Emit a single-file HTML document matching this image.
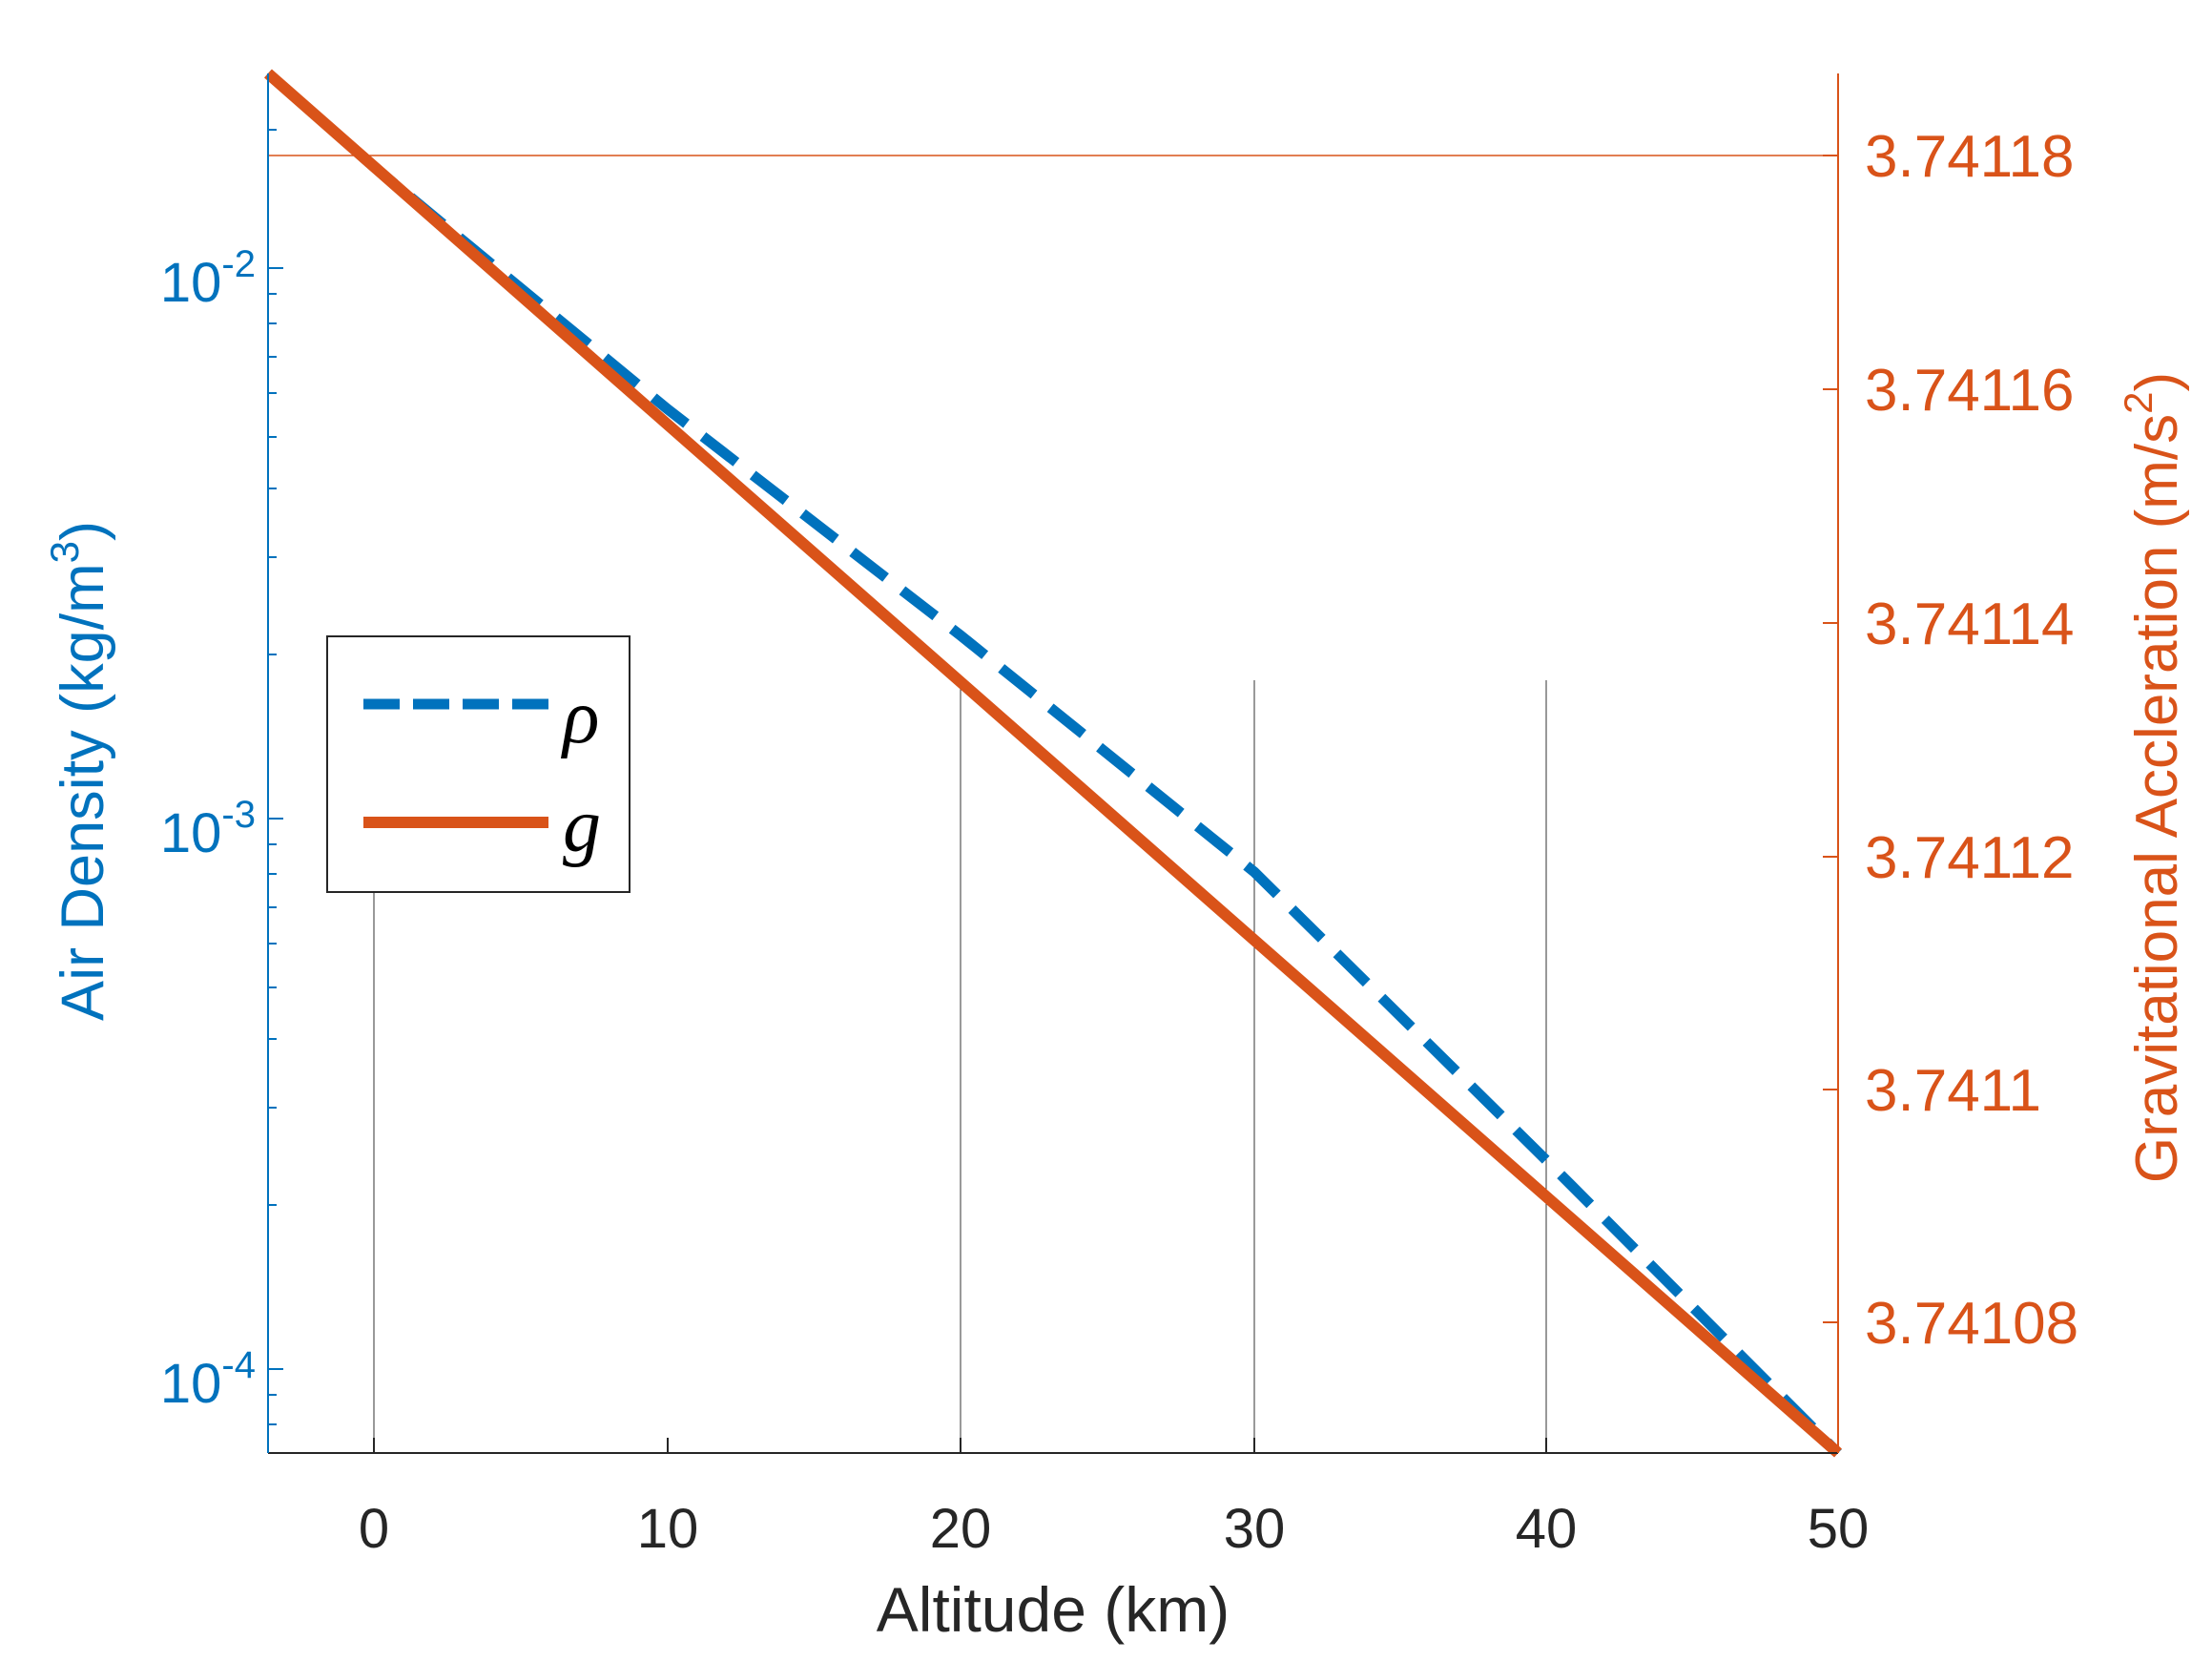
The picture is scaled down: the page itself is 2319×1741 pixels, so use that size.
<!DOCTYPE html>
<html><head><style>body{margin:0;background:#fff}svg{display:block}</style></head><body>
<svg width="2319" height="1741" xmlns="http://www.w3.org/2000/svg" font-family="Liberation Sans, sans-serif">
<rect width="2319" height="1741" fill="#fff"/>
<g stroke="#333" stroke-width="1">
<line x1="392" y1="713" x2="392" y2="1523"/>
<line x1="1007" y1="713" x2="1007" y2="1523"/>
<line x1="1315" y1="713" x2="1315" y2="1523"/>
<line x1="1621" y1="713" x2="1621" y2="1523"/>
</g>
<line x1="281" y1="163" x2="1927" y2="163" stroke="#D95319" stroke-width="1.5"/>
<polyline points="281,77 392,175 547,303 700,429 1007,666 1315,914 1621,1216 1927,1523" fill="none" stroke="#0072BD" stroke-width="11" stroke-dasharray="44,22"/>
<line x1="281" y1="77" x2="1927" y2="1523" stroke="#D95319" stroke-width="12"/>
<line x1="281" y1="1523" x2="1927" y2="1523" stroke="#262626" stroke-width="2"/>
<line x1="281" y1="77" x2="281" y2="1523" stroke="#0072BD" stroke-width="2"/>
<line x1="1927" y1="77" x2="1927" y2="1523" stroke="#D95319" stroke-width="2"/>
<g stroke="#262626" stroke-width="2">
<line x1="392" y1="1523" x2="392" y2="1507"/><line x1="700" y1="1523" x2="700" y2="1507"/><line x1="1007" y1="1523" x2="1007" y2="1507"/><line x1="1315" y1="1523" x2="1315" y2="1507"/><line x1="1621" y1="1523" x2="1621" y2="1507"/>
</g>
<g font-size="58" fill="#262626" text-anchor="middle">
<text x="392" y="1622">0</text><text x="700" y="1622">10</text><text x="1007" y="1622">20</text><text x="1315" y="1622">30</text><text x="1621" y="1622">40</text><text x="1927" y="1622">50</text>
<text x="1104" y="1710" font-size="66">Altitude (km)</text>
</g>
<g stroke="#0072BD" stroke-width="2">
<line x1="281" y1="281" x2="297" y2="281"/><line x1="281" y1="858" x2="297" y2="858"/><line x1="281" y1="1435" x2="297" y2="1435"/>
<line x1="281" y1="136" x2="290" y2="136"/><line x1="281" y1="308" x2="290" y2="308"/><line x1="281" y1="339" x2="290" y2="339"/><line x1="281" y1="374" x2="290" y2="374"/><line x1="281" y1="412" x2="290" y2="412"/><line x1="281" y1="458" x2="290" y2="458"/><line x1="281" y1="512" x2="290" y2="512"/><line x1="281" y1="584" x2="290" y2="584"/><line x1="281" y1="686" x2="290" y2="686"/>
<line x1="281" y1="885" x2="290" y2="885"/><line x1="281" y1="916" x2="290" y2="916"/><line x1="281" y1="951" x2="290" y2="951"/><line x1="281" y1="989" x2="290" y2="989"/><line x1="281" y1="1035" x2="290" y2="1035"/><line x1="281" y1="1089" x2="290" y2="1089"/><line x1="281" y1="1161" x2="290" y2="1161"/><line x1="281" y1="1263" x2="290" y2="1263"/>
<line x1="281" y1="1462" x2="290" y2="1462"/><line x1="281" y1="1493" x2="290" y2="1493"/>
</g>
<g font-size="58" fill="#0072BD" text-anchor="end">
<text x="268" y="316">10<tspan font-size="40" dy="-26">-2</tspan></text>
<text x="268" y="893">10<tspan font-size="40" dy="-26">-3</tspan></text>
<text x="268" y="1470">10<tspan font-size="40" dy="-26">-4</tspan></text>
</g>
<text transform="translate(108,808) rotate(-90)" font-size="63" fill="#0072BD" text-anchor="middle">Air Density (kg/m<tspan font-size="42" dy="-26">3</tspan><tspan dy="26">)</tspan></text>
<g stroke="#D95319" stroke-width="2">
<line x1="1927" y1="163" x2="1911" y2="163"/><line x1="1927" y1="408" x2="1911" y2="408"/><line x1="1927" y1="653" x2="1911" y2="653"/><line x1="1927" y1="898" x2="1911" y2="898"/><line x1="1927" y1="1142" x2="1911" y2="1142"/><line x1="1927" y1="1386" x2="1911" y2="1386"/>
</g>
<g font-size="62" fill="#D95319">
<text x="1955" y="185">3.74118</text><text x="1955" y="430">3.74116</text><text x="1955" y="675">3.74114</text><text x="1955" y="920">3.74112</text><text x="1955" y="1164">3.7411</text><text x="1955" y="1408">3.74108</text>
</g>
<text transform="translate(2282,815) rotate(-90)" font-size="62" fill="#D95319" text-anchor="middle">Gravitational Accleration (m/s<tspan font-size="42" dy="-26">2</tspan><tspan dy="26">)</tspan></text>
<rect x="343" y="667" width="317" height="268" fill="#fff" stroke="#262626" stroke-width="2"/>
<line x1="381" y1="738" x2="575" y2="738" stroke="#0072BD" stroke-width="11" stroke-dasharray="38,14"/>
<line x1="381" y1="862" x2="575" y2="862" stroke="#D95319" stroke-width="12"/>
<text x="590" y="778" font-family="Liberation Serif, serif" font-style="italic" font-size="80" fill="#000">ρ</text>
<text x="590" y="892" font-family="Liberation Serif, serif" font-style="italic" font-size="80" fill="#000">g</text>
</svg>
</body></html>
